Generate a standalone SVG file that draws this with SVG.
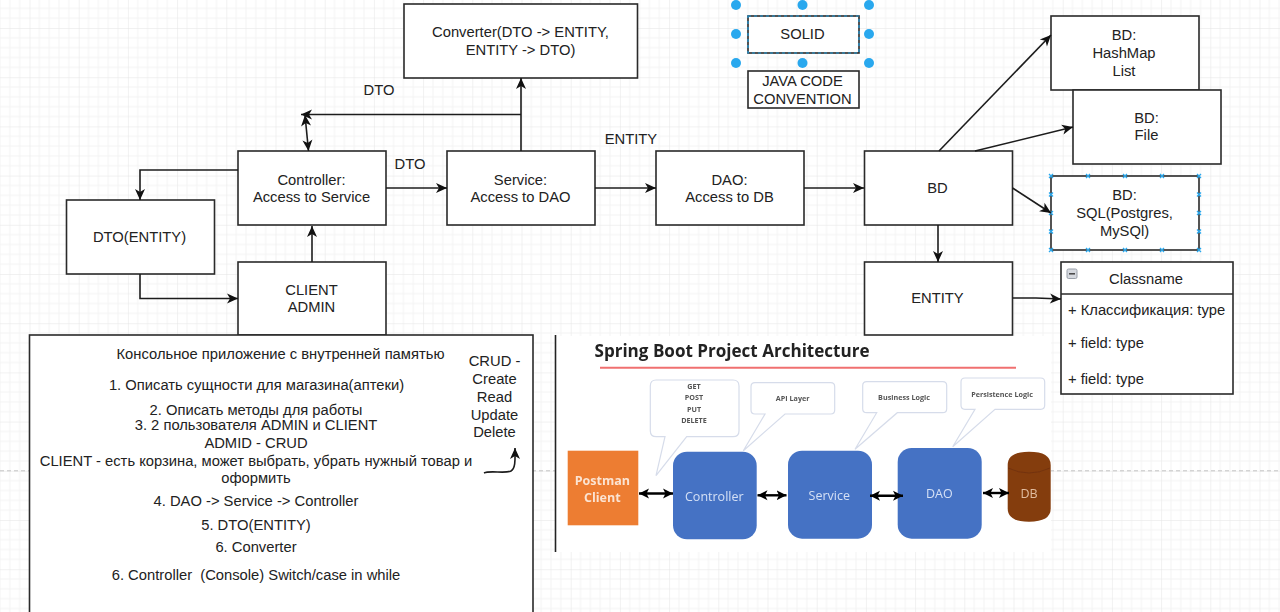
<svg xmlns="http://www.w3.org/2000/svg" width="1280" height="612" viewBox="0 0 1280 612">
<style>
text{font-family:"Liberation Sans",Arial,sans-serif;font-size:14.76px;fill:#222;text-anchor:middle}
.b{fill:#fff;stroke:#2a2a2a;stroke-width:1.6}
.c{fill:none;stroke:#1c1c1c;stroke-width:1.6}
.l{text-anchor:start}
.bub{fill:#fff;stroke:#d6dcea;stroke-width:1.2}
.bt{font-family:"Open Sans",sans-serif;font-size:7.2px;font-weight:700;fill:#555}
.blk{fill:#4472c4}
.wt{font-family:"Open Sans",sans-serif;font-size:12.5px;fill:#d5e0f5}
.da{fill:none;stroke:#000;stroke-width:2.4}
.h{fill:#29a8ee}
</style>
<defs>
<filter id="soft" x="0" y="0" width="1" height="1"><feGaussianBlur stdDeviation="0.35"/></filter>
<marker id="a" markerUnits="userSpaceOnUse" markerWidth="13" markerHeight="12" viewBox="0 0 13 12" refX="12" refY="6" orient="auto-start-reverse"><path d="M1 1 L12 6 L1 11 L4 6Z" fill="#111"/></marker>
<marker id="d" markerUnits="userSpaceOnUse" markerWidth="11" markerHeight="11" viewBox="0 0 11 11" refX="10" refY="5.5" orient="auto-start-reverse"><path d="M0 0.5 L10 5.5 L0 10.5 L2.500 5.5Z" fill="#000"/></marker>
<pattern id="grid" patternUnits="userSpaceOnUse" x="29.5" y="28" width="49.2" height="49.2">
<path d="M9.84 0V49.2M19.68 0V49.2M29.52 0V49.2M39.36 0V49.2M0 9.84H49.2M0 19.68H49.2M0 29.52H49.2M0 39.36H49.2" fill="none" stroke="#f4f4f4" stroke-width="1"/>
<path d="M0 0V49.2M0 0H49.2" fill="none" stroke="#e4e4e4" stroke-width="1"/>
</pattern>
</defs>
<rect width="1280" height="612" fill="#fff"/>
<rect id="grid-bg" width="1280" height="612" fill="url(#grid)"/>
<path d="M0 470.8H1280" stroke="#c4c4c4" stroke-dasharray="4 3" fill="none"/>

<g id="converter"><rect class="b" x="404" y="4" width="233.5" height="74"/><text x="520.500" y="37">Converter(DTO -&gt; ENTITY,</text><text x="520.500" y="54.500">ENTITY -&gt; DTO)</text></g>
<g id="controller"><rect class="b" x="238" y="151" width="148" height="74"/><text x="311.500" y="185">Controller:</text><text x="311.500" y="202">Access to Service</text></g>
<g id="service"><rect class="b" x="447" y="151" width="148" height="74"/><text x="520.500" y="185">Service:</text><text x="520.500" y="202">Access to DAO</text></g>
<g id="dao"><rect class="b" x="656" y="151" width="148" height="74"/><text x="729.500" y="185">DAO:</text><text x="729.500" y="202">Access to DB</text></g>
<g id="bd"><rect class="b" x="864.5" y="151" width="148" height="74"/><text x="937.500" y="193">BD</text></g>
<g id="dto-entity"><rect class="b" x="66.5" y="200" width="148" height="74"/><text x="139.500" y="242">DTO(ENTITY)</text></g>
<g id="client-admin"><rect class="b" x="238" y="262" width="148" height="73"/><text x="311.500" y="294.500">CLIENT</text><text x="311.500" y="312">ADMIN</text></g>
<g id="entity"><rect class="b" x="864.5" y="262" width="148" height="73"/><text x="937.500" y="303">ENTITY</text></g>
<g id="solid"><rect class="b" x="748" y="16" width="111" height="37"/><rect x="748" y="16" width="111" height="37" fill="none" stroke="#1e9bdc" stroke-width="1.2" stroke-dasharray="3 3"/><text x="802.500" y="39">SOLID</text>
<g class="h"><circle cx="736" cy="5" r="5"/><circle cx="802.5" cy="5" r="5"/><circle cx="869" cy="5" r="5"/><circle cx="736" cy="34" r="5"/><circle cx="869" cy="34" r="5"/><circle cx="736" cy="63" r="5"/><circle cx="802.5" cy="63" r="5"/><circle cx="869" cy="63" r="5"/></g></g>
<g id="java-code"><rect class="b" x="748" y="71" width="111" height="37"/><text x="802.500" y="86">JAVA CODE</text><text x="802.500" y="103.500">CONVENTION</text></g>
<g id="bd-hashmap"><rect class="b" x="1051" y="16" width="148" height="74"/><text x="1124" y="40">BD:</text><text x="1124" y="57.500">HashMap</text><text x="1124" y="75.500">List</text></g>
<g id="bd-file"><rect class="b" x="1073" y="90" width="148" height="74"/><text x="1146.5" y="122.500">BD:</text><text x="1146.5" y="140">File</text></g>
<g id="bd-sql"><rect class="b" x="1051" y="176" width="148" height="74"/><text x="1124.500" y="200">BD:</text><text x="1124.500" y="217.500">SQL(Postgres,</text><text x="1124.500" y="235.500">MySQl)</text>
<path fill="none" stroke="#29a8ee" stroke-width="1.300" d="M1049 174l4 4m0-4l-4 4M1086 174l4 4m0-4l-4 4M1123 174l4 4m0-4l-4 4M1160 174l4 4m0-4l-4 4M1197 174l4 4m0-4l-4 4M1049 192.500l4 4m0-4l-4 4M1197 192.500l4 4m0-4l-4 4M1049 211l4 4m0-4l-4 4M1197 211l4 4m0-4l-4 4M1049 229.500l4 4m0-4l-4 4M1197 229.500l4 4m0-4l-4 4M1049 248l4 4m0-4l-4 4M1086 248l4 4m0-4l-4 4M1123 248l4 4m0-4l-4 4M1160 248l4 4m0-4l-4 4M1197 248l4 4m0-4l-4 4"/></g>
<g id="classname"><rect class="b" x="1061" y="262" width="172" height="132"/><path class="b" d="M1061 294H1233"/><rect x="1067" y="269" width="10" height="9.500" rx="1.500" fill="#d5d8de" stroke="#9aa0aa"/><path d="M1069 273.800h6" stroke="#444" stroke-width="1.500"/><text x="1146" y="283.500">Classname</text><text class="l" x="1068" y="315">+ Классификация: type</text><text class="l" x="1068" y="347.500">+ field: type</text><text class="l" x="1068" y="384">+ field: type</text></g>

<g id="label-dto-1"><text x="379" y="95">DTO</text></g>
<g id="label-dto-2"><text x="410" y="168.500">DTO</text></g>
<g id="label-entity"><text x="631" y="144">ENTITY</text></g>

<g id="task-panel"><rect class="b" x="29.500" y="335" width="503.500" height="290"/>
<text x="280.500" y="358.500">Консольное приложение с внутренней памятью</text>
<text x="256.500" y="390">1. Описать сущности для магазина(аптеки)</text>
<text x="256" y="415">2. Описать методы для работы</text>
<text x="256" y="430">3. 2 пользователя ADMIN и CLIENT</text>
<text x="256" y="448">ADMID - CRUD</text>
<text x="256" y="465.500">CLIENT - есть корзина, может выбрать, убрать нужный товар и</text>
<text x="256" y="483.200">оформить</text>
<text x="256" y="505.500">4. DAO -&gt; Service -&gt; Controller</text>
<text x="256" y="530">5. DTO(ENTITY)</text>
<text x="256" y="552">6. Converter</text>
<text x="256" y="579.500">6. Controller &#160;(Console) Switch/case in while</text>
<text x="494.500" y="366">CRUD -</text><text x="494.500" y="384">Create</text><text x="494.500" y="401.500">Read</text><text x="494.500" y="419.500">Update</text><text x="494.500" y="437">Delete</text>
</g>

<g id="architecture-image" filter="url(#soft)">
<rect x="556" y="336" width="495" height="216" fill="#fff"/>
<text x="732" y="356.500" textLength="275" lengthAdjust="spacingAndGlyphs" style="font-family:'Open Sans',sans-serif;font-weight:700;font-size:18px;fill:#222">Spring Boot Project Architecture</text>
<path d="M600 367.700H1016" stroke="#f07070" stroke-width="2"/>
<g id="bubble-http"><path class="bub" d="M656 380H733Q739 380 739 386V430.700Q739 436.700 733 436.700H686.700L656 475.700L665 436.700H656.300Q650.300 436.700 650.300 430.700V386Q650.300 380 656 380Z"/><text class="bt" x="694" y="388.500">GET</text><text class="bt" x="694" y="400">POST</text><text class="bt" x="694" y="411.500">PUT</text><text class="bt" x="694" y="422.500">DELETE</text></g>
<g id="bubble-api"><path class="bub" d="M755 382.700H830.700Q834.700 382.700 834.700 386.700V410Q834.700 414 830.700 414H785L743.300 450.700L765 414H755Q751 414 751 410V386.700Q751 382.700 755 382.700Z"/><text class="bt" x="792.700" y="401">API Layer</text></g>
<g id="bubble-business"><path class="bub" d="M866.700 381.700H942.700Q946.700 381.700 946.700 385.700V408.700Q946.700 412.700 942.700 412.700H897.300L855 449.300L876.700 412.700H866.700Q862.700 412.700 862.700 408.700V385.700Q862.700 381.700 866.700 381.700Z"/><text class="bt" x="904" y="399.500">Business Logic</text></g>
<g id="bubble-persistence"><path class="bub" d="M965 378H1040.700Q1044.700 378 1044.700 382V405.300Q1044.700 409.300 1040.700 409.300H995L952.700 446.700L975 409.300H965Q961 409.300 961 405.300V382Q961 378 965 378Z"/><text class="bt" x="1002" y="396.500">Persistence Logic</text></g>
<g id="postman-client"><rect x="567.700" y="450.700" width="70.600" height="74.600" fill="#ed7d31"/><text x="602.300" y="484.500" style="font-family:'Open Sans',sans-serif;font-size:12.500px;font-weight:700;fill:#fbe3d2">Postman</text><text x="602.300" y="502" style="font-family:'Open Sans',sans-serif;font-size:12.500px;font-weight:700;fill:#fbe3d2">Client</text></g>
<g id="img-controller"><rect class="blk" x="673" y="451.700" width="83.700" height="87.600" rx="14"/><text class="wt" x="714.300" y="500.500">Controller</text></g>
<g id="img-service"><rect class="blk" x="788" y="450.700" width="84" height="88" rx="14"/><text class="wt" x="829.300" y="499.500">Service</text></g>
<g id="img-dao"><rect class="blk" x="897.700" y="448" width="84" height="90.700" rx="14"/><text class="wt" x="939.300" y="498">DAO</text></g>
<g id="img-db"><path d="M1007.700 465Q1007.700 451.700 1029 451.700Q1050.700 451.700 1050.700 465V508.500Q1050.700 521.700 1029 521.700Q1007.700 521.700 1007.700 508.500Z" fill="#843c0c"/><path d="M1008 468Q1029 478 1050 468" fill="none" stroke="#6e3109" stroke-width="0.800"/><text class="wt" x="1029" y="497.500" style="fill:#e0bda0">DB</text></g>
</g>
<path id="panel-divider" d="M555.500 335V552" stroke="#222" stroke-width="1.600"/>

<g id="connectors">
<path class="c" d="M521 151V78" marker-end="url(#a)"/>
<path class="c" d="M521 114.500H301" marker-end="url(#a)"/>
<path class="c" d="M305 115L308.500 151" marker-start="url(#a)" marker-end="url(#a)"/>
<path class="c" d="M238 170H140V200" marker-end="url(#a)"/>
<path class="c" d="M140 274V298.500H238" marker-end="url(#a)"/>
<path class="c" d="M312 262V226" marker-end="url(#a)"/>
<path class="c" d="M386 188H447" marker-end="url(#a)"/>
<path class="c" d="M595 188H656" marker-end="url(#a)"/>
<path class="c" d="M804 188H864" marker-end="url(#a)"/>
<path class="c" d="M939 151L1051 35" marker-end="url(#a)"/>
<path class="c" d="M975 151L1073 127" marker-end="url(#a)"/>
<path class="c" d="M1012.500 188L1051 213" marker-end="url(#a)"/>
<path class="c" d="M938 225V262" marker-end="url(#a)"/>
<path class="c" d="M1012.500 298H1036L1061 299" marker-end="url(#a)"/>
<path class="c" d="M484 473C490 470 505 474 511 471C516 468 515 458 515 448" marker-end="url(#a)"/>
<path class="da" d="M639 493.500H673" marker-start="url(#d)" marker-end="url(#d)"/>
<path class="da" d="M757.500 495.300H786.500" marker-start="url(#d)" marker-end="url(#d)"/>
<path class="da" d="M870 495.700H903" marker-start="url(#d)" marker-end="url(#d)"/>
<path class="da" d="M983 493H1009" marker-start="url(#d)" marker-end="url(#d)"/>
</g>
</svg>
